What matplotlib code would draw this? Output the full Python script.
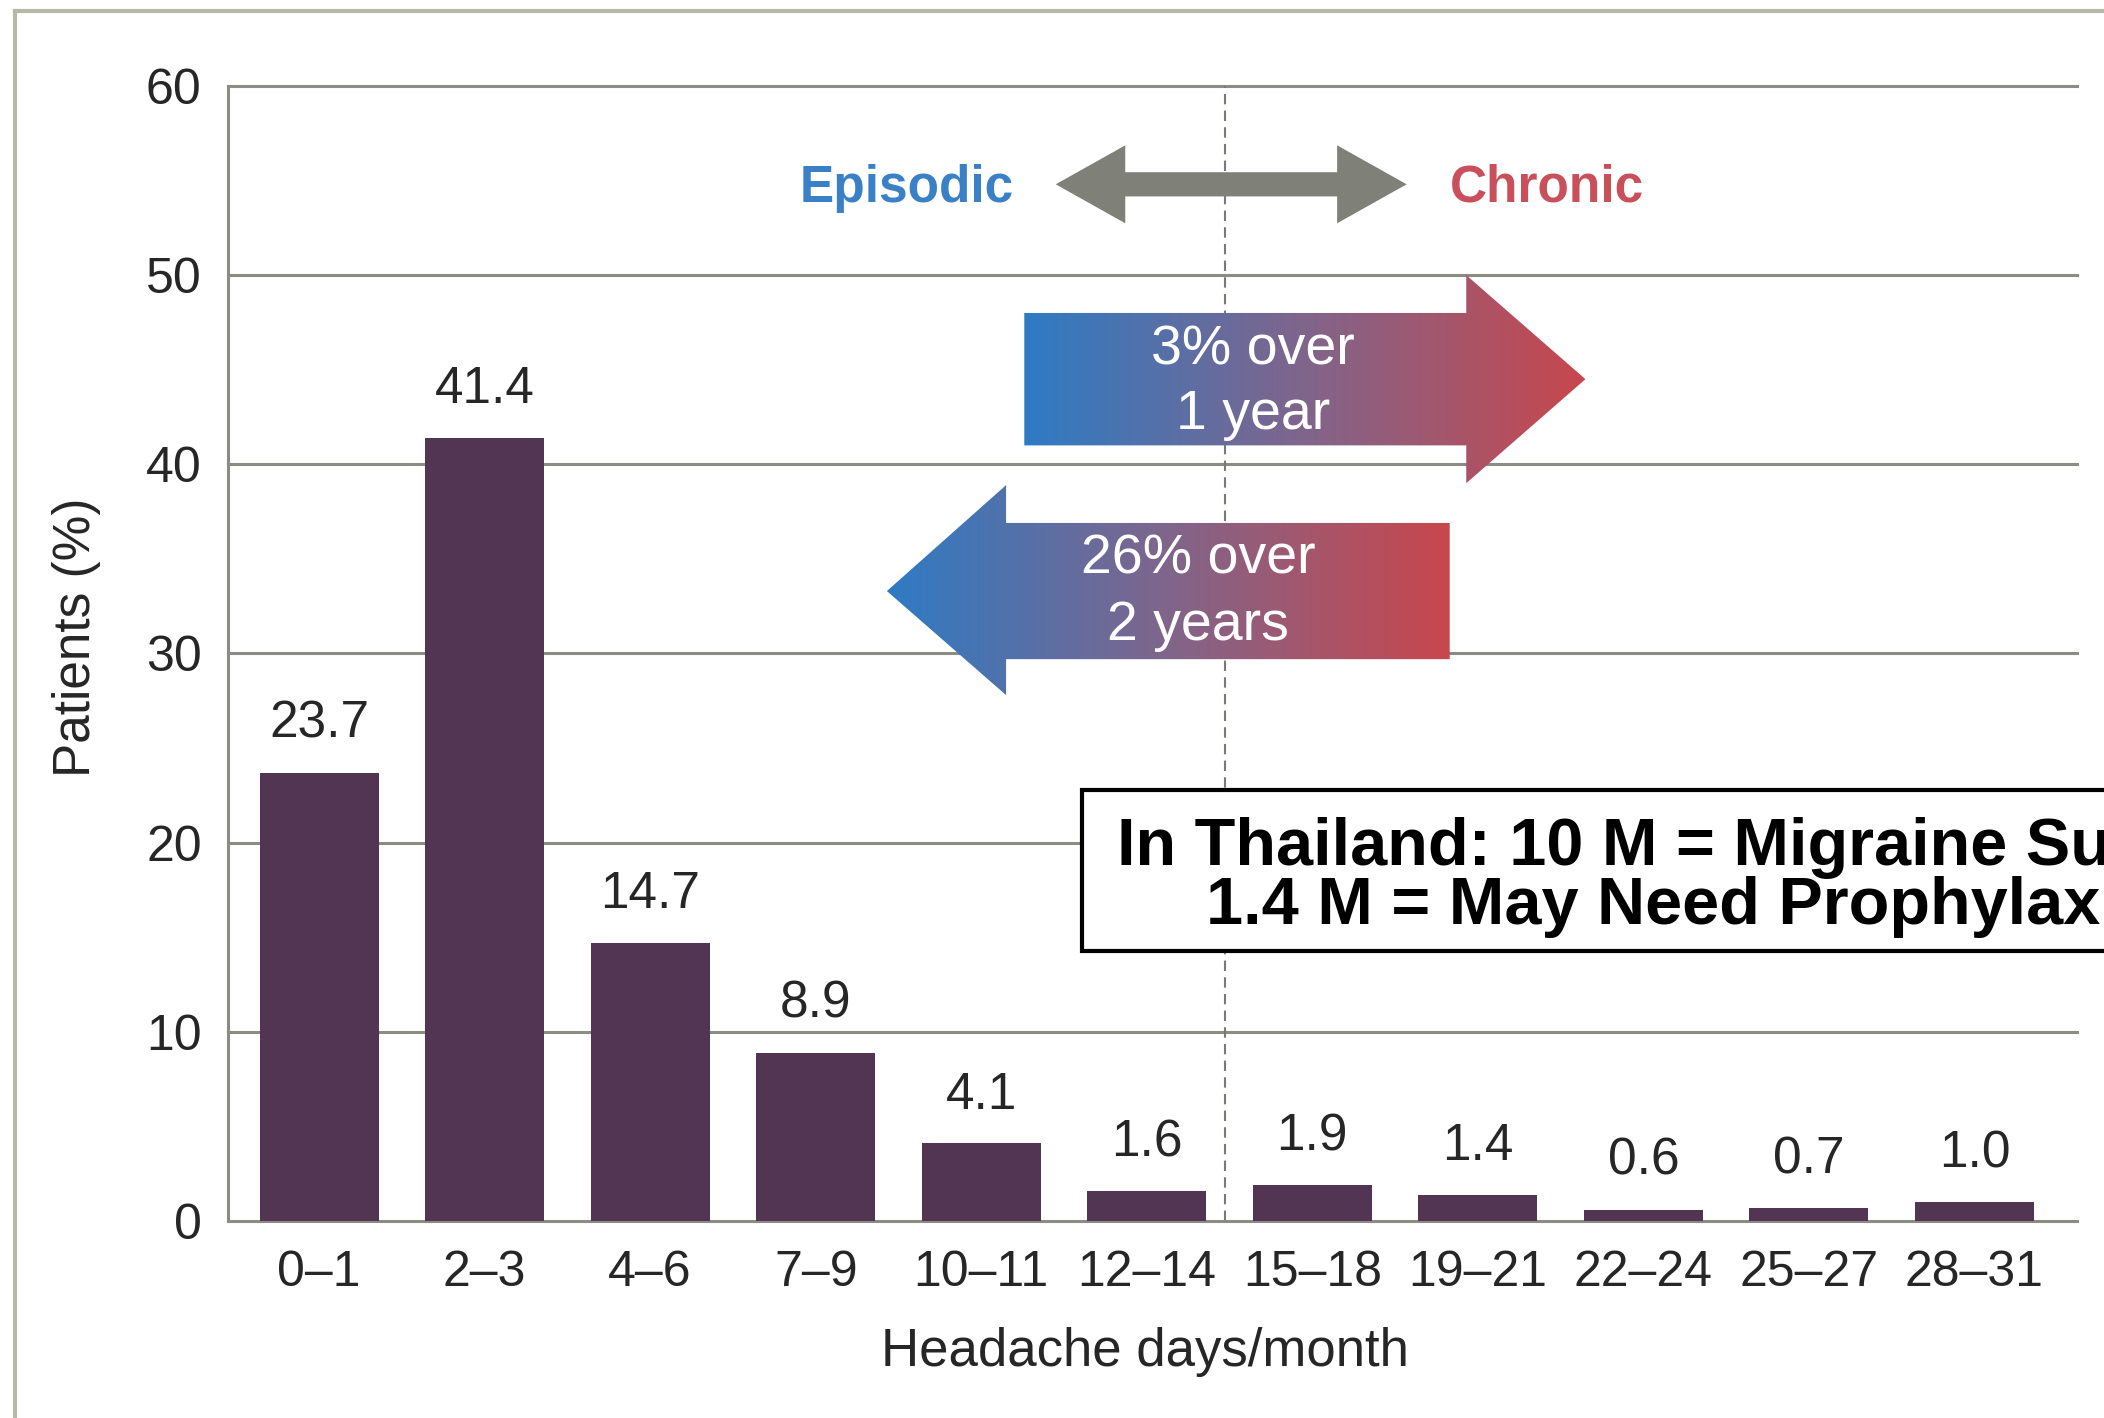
import matplotlib.pyplot as plt
import numpy as np
from matplotlib.colors import LinearSegmentedColormap
from matplotlib.lines import Line2D
from matplotlib.patches import Polygon, Rectangle

plt.rcParams['font.family'] = ['Liberation Sans', 'DejaVu Sans']

# headache-day bins and share of patients in each
day_bins = ['0–1', '2–3', '4–6', '7–9', '10–11', '12–14',
            '15–18', '19–21', '22–24', '25–27', '28–31']
patients_pct = [23.7, 41.4, 14.7, 8.9, 4.1, 1.6, 1.9, 1.4, 0.6, 0.7, 1.0]
y_ticks = [0, 10, 20, 30, 40, 50, 60]

BAR_COLOR = '#523553'
GRID_COLOR = '#8b8c83'
FRAME_COLOR = '#b7b9a8'
TEXT_COLOR = '#262626'
BLUE = '#2e7bc4'
RED = '#c8474d'

fig = plt.figure(figsize=(21.04, 14.18), dpi=100)
ax = fig.add_axes([0.1084, 0.1389, 0.8788, 0.8005])

# light outer frame (top and left edges only, the rest runs off the canvas)
fig.add_artist(Line2D([0.0072, 1.2], [0.9922, 0.9922], transform=fig.transFigure,
                      color=FRAME_COLOR, lw=3))
fig.add_artist(Line2D([0.0072, 0.0072], [-0.2, 0.9922], transform=fig.transFigure,
                      color=FRAME_COLOR, lw=3))

x = np.arange(len(day_bins))
ax.bar(x, patients_pct, width=0.72, color=BAR_COLOR, zorder=3)
for xi, v in zip(x, patients_pct):
    ax.annotate(f'{v:.1f}', (xi, v), xytext=(0, 25), textcoords='offset points',
                ha='center', va='baseline', fontsize=37, color=TEXT_COLOR)

for yt in y_ticks[1:]:
    ax.axhline(yt, color=GRID_COLOR, lw=2.2, zorder=1, clip_on=False)

# episodic / chronic boundary
ax.axvline(5.47, color='#7a7a74', lw=1.5, ls=(0, (5, 3)), zorder=2)

# grey double-headed arrow between the two labels
x0, x1, yc = 4.45, 6.57, 54.8
hl, hh, st = 0.42, 2.06, 0.64
dbl = Polygon([(x0, yc), (x0 + hl, yc + hh), (x0 + hl, yc + st), (x1 - hl, yc + st),
               (x1 - hl, yc + hh), (x1, yc), (x1 - hl, yc - hh), (x1 - hl, yc - st),
               (x0 + hl, yc - st), (x0 + hl, yc - hh)],
              closed=True, fc='#7f8077', ec='none', zorder=4)
ax.add_patch(dbl)
ax.text(3.55, 54.6, 'Episodic', color='#3a80c6', fontsize=37, fontweight='bold',
        ha='center', va='center', zorder=5)
ax.text(7.42, 54.6, 'Chronic', color='#c9505a', fontsize=37, fontweight='bold',
        ha='center', va='center', zorder=5)

grad_cmap = LinearSegmentedColormap.from_list('epi_chr', [BLUE, '#80658b', RED])
gradient = np.linspace(0, 1, 256).reshape(1, -1)


def gradient_arrow(points, x_lo, x_hi, y_lo, y_hi):
    poly = Polygon(points, closed=True, fc='none', ec='none', zorder=4)
    ax.add_patch(poly)
    im = ax.imshow(gradient, extent=[x_lo, x_hi, y_lo, y_hi], cmap=grad_cmap,
                   aspect='auto', interpolation='bicubic', zorder=4)
    im.set_clip_path(poly)


# episodic -> chronic
gradient_arrow([(4.26, 41.0), (6.93, 41.0), (6.93, 39.0), (7.65, 44.5),
                (6.93, 50.0), (6.93, 48.0), (4.26, 48.0)],
               4.26, 7.65, 39.0, 50.0)
ax.text(5.64, 44.3, '3% over\n1 year', color='white', fontsize=40,
        ha='center', va='center', linespacing=1.3, zorder=5)

# chronic -> episodic
gradient_arrow([(3.43, 33.3), (4.15, 38.9), (4.15, 36.9), (6.83, 36.9),
                (6.83, 29.7), (4.15, 29.7), (4.15, 27.8)],
               3.43, 6.83, 27.8, 38.9)
ax.text(5.31, 33.2, '26% over\n2 years', color='white', fontsize=40,
        ha='center', va='center', linespacing=1.35, zorder=5)

# callout box
ax.add_patch(Rectangle((4.61, 14.3), 8.0, 8.5, fc='white', ec='black', lw=3,
                       zorder=6, clip_on=False))
ax.text(4.82, 18.8, 'In Thailand: 10 M = Migraine Sufferers', fontsize=48,
        fontweight='bold', color='black', ha='left', va='baseline', zorder=7,
        clip_on=False)
ax.text(5.36, 15.7, '1.4 M = May Need Prophylaxis', fontsize=48,
        fontweight='bold', color='black', ha='left', va='baseline', zorder=7,
        clip_on=False)

ax.set_xlim(-0.55, 10.62)
ax.set_ylim(0, 60)
ax.set_yticks(y_ticks)
ax.set_xticks(x, day_bins)
ax.tick_params(axis='both', length=0, labelsize=36, labelcolor=TEXT_COLOR)
ax.tick_params(axis='y', pad=19)
ax.tick_params(axis='x', pad=21)

for side in ['top', 'right']:
    ax.spines[side].set_visible(False)
for side in ['left', 'bottom']:
    ax.spines[side].set_color(GRID_COLOR)
    ax.spines[side].set_linewidth(2.2)

ax.set_ylabel('Patients (%)', fontsize=37, color=TEXT_COLOR)
ax.yaxis.set_label_coords(-0.0685, 0.514)
ax.set_xlabel('Headache days/month', fontsize=38, color=TEXT_COLOR)
ax.xaxis.set_label_coords(0.496, -0.093)

fig.savefig('out.png', dpi=100)
